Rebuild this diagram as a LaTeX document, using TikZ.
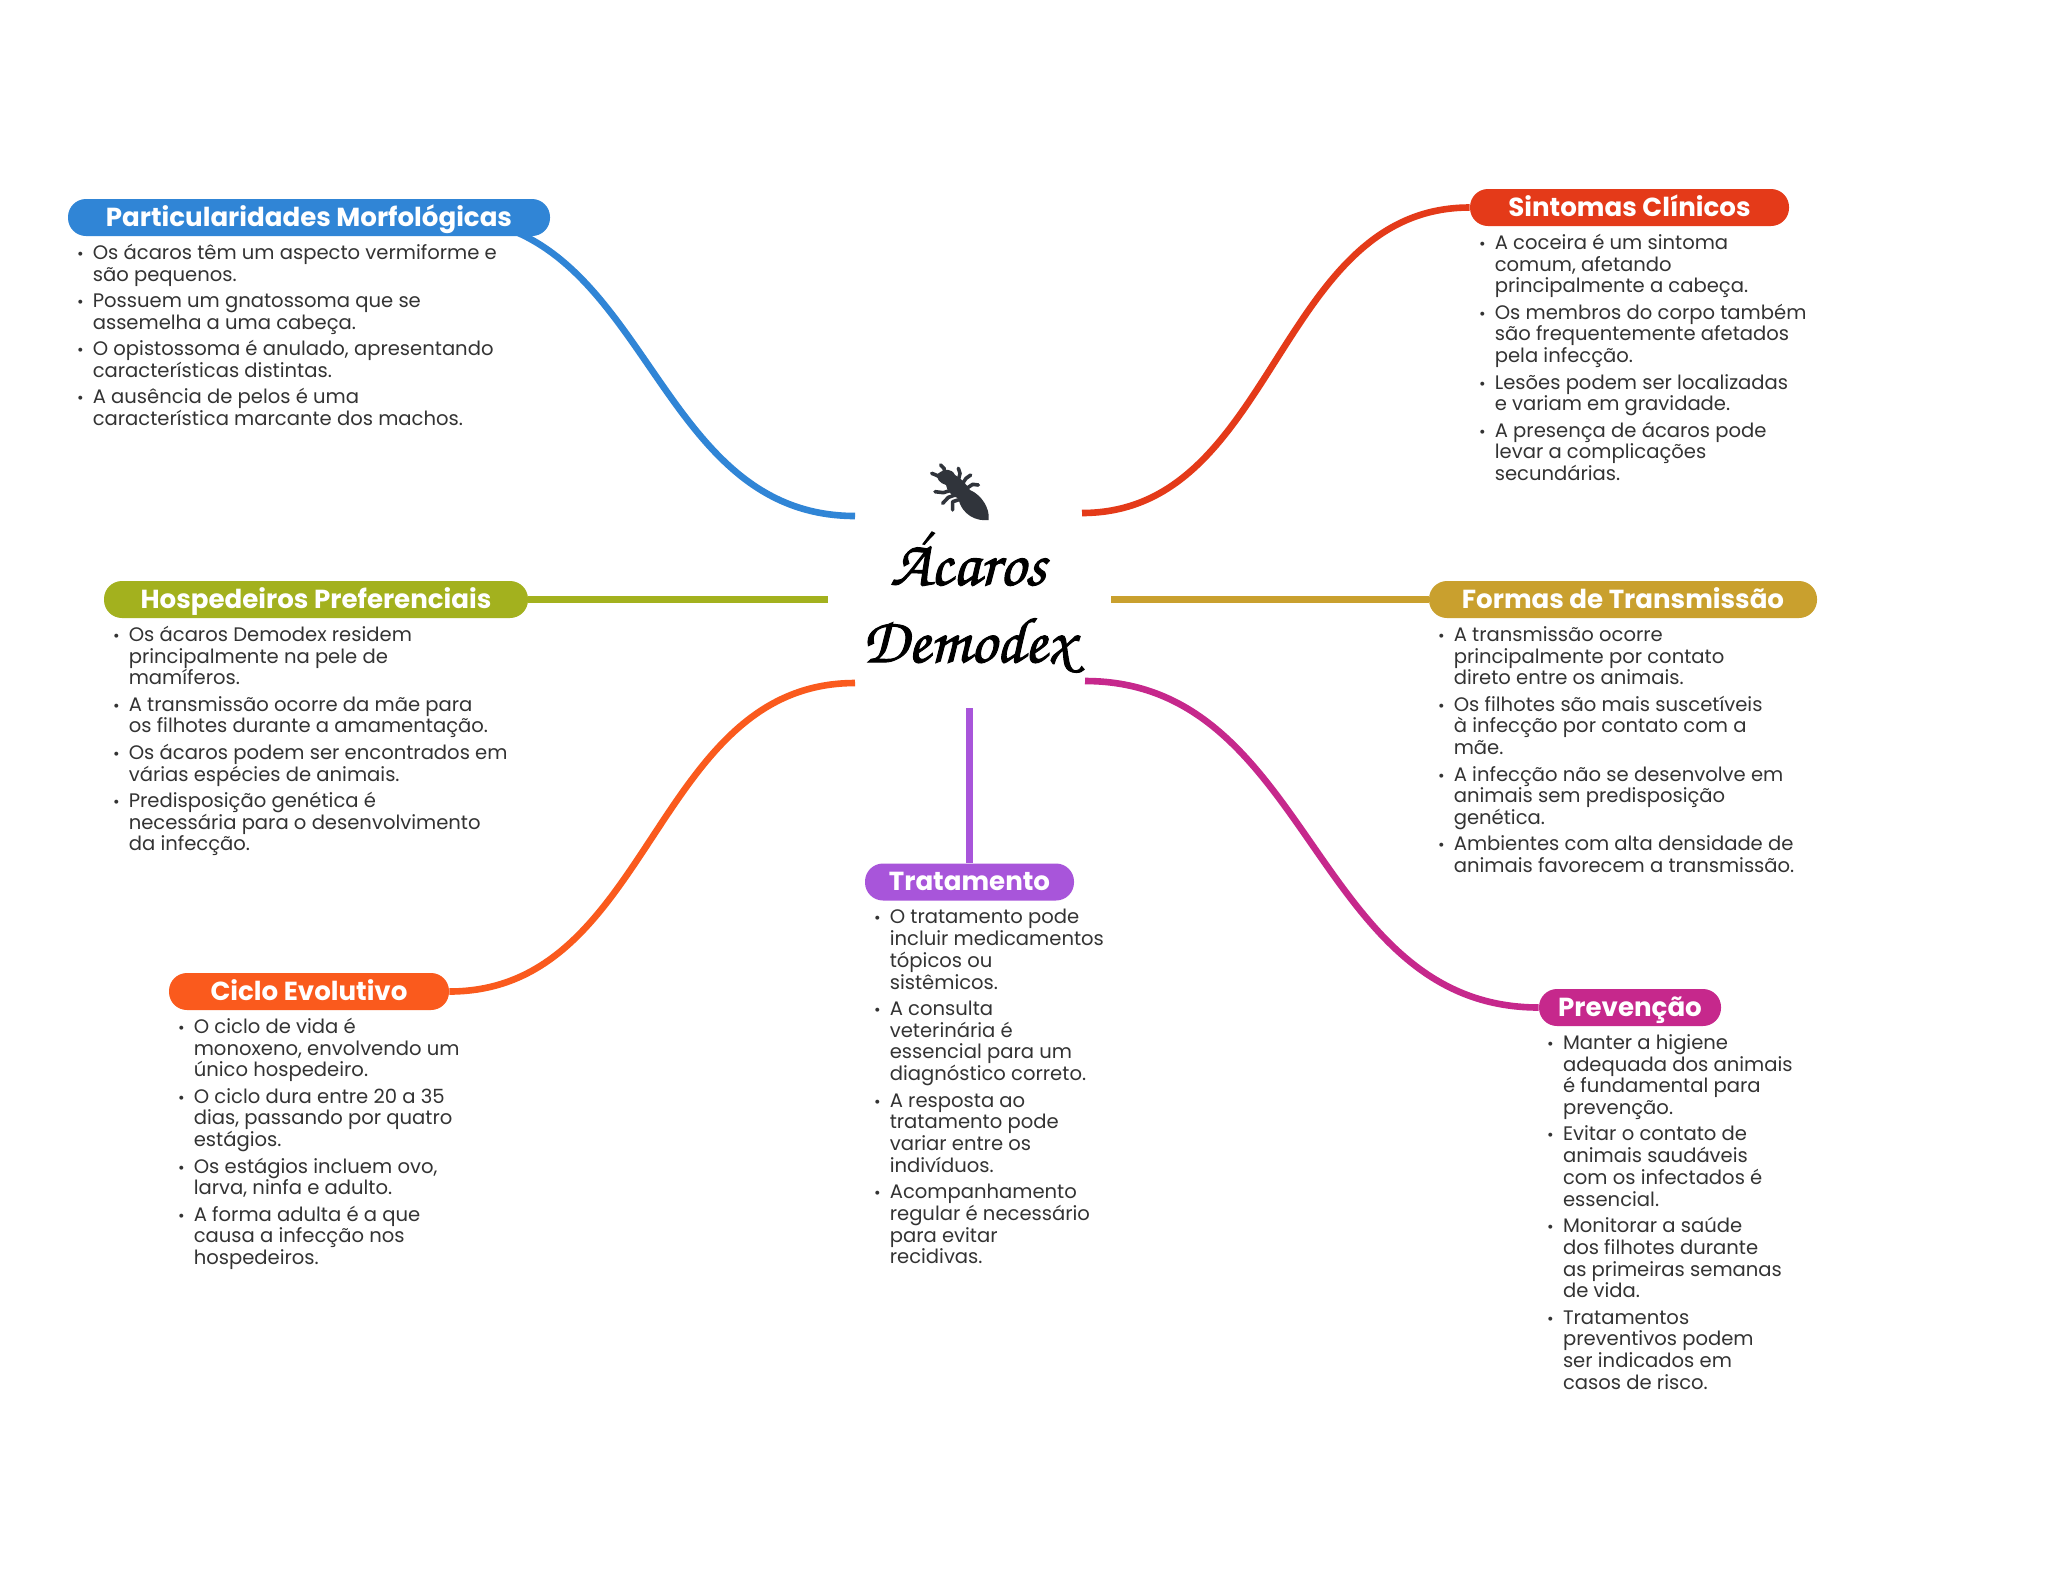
\documentclass[tikz,border=0pt]{standalone}
\usepackage{fontspec}
\setmainfont{Poppins}
\usetikzlibrary{calc,backgrounds}
\definecolor{cblue}{HTML}{3085D6}
\definecolor{cred}{HTML}{E43A19}
\definecolor{colive}{HTML}{A3B11E}
\definecolor{cgold}{HTML}{C9A02E}
\definecolor{corange}{HTML}{FA5A1D}
\definecolor{cpurple}{HTML}{A855DA}
\definecolor{cmag}{HTML}{C6288C}
\definecolor{ctext}{HTML}{333333}
\definecolor{cmite}{HTML}{30343B}
\newcommand{\itm}{\llap{{\fontsize{8pt}{8pt}\selectfont •}\hspace{4.6pt}}}
\newcommand{\first}{\rule{0pt}{8pt}\itm}
\newcommand{\nx}{\\[2.3pt]\itm}
\newcommand{\scurve}[3]{\draw[link,#1] let \p1=(#2),\p2=(#3) in (#2) .. controls ({0.5*(\x1+\x2)},\y1) and ({0.5*(\x1+\x2)},\y2) .. (#3);}
\tikzset{
  pill/.style={rounded corners=9pt,inner sep=0pt,text=white,text height=10pt,text depth=1.5pt,font=\fontsize{13.05pt}{14pt}\selectfont\bfseries},
  listbox/.style={anchor=north west,inner sep=0pt,align=left,text=ctext,font=\fontsize{9.79pt}{10.87pt}\selectfont},
  link/.style={line width=3.3pt},
  titlebox/.style={inner sep=0pt,align=center,text=black,font=\fontencoding{T1}\fontfamily{pzc}\fontseries{mb}\fontshape{it}\fontsize{32.4pt}{38.6pt}\selectfont}
}
\begin{document}
\begin{tikzpicture}[x=0.5pt,y=-0.5pt]
\useasboundingbox (0,0) rectangle (2048,1569);
% pills
\node[pill,fill=cblue,minimum width=241pt,minimum height=18.5pt] (p1) at (309,217.5) {Particularidades Morfológicas};
\node[pill,fill=cred,minimum width=159.5pt,minimum height=18.5pt] (p2) at (1629.5,207.5) {Sintomas Clínicos};
\node[pill,fill=colive,minimum width=212pt,minimum height=18.5pt] (p3) at (316,599.5) {Hospedeiros Preferenciais};
\node[pill,fill=cgold,minimum width=194pt,minimum height=18.5pt] (p4) at (1623,599.5) {Formas de Transmissão};
\node[pill,fill=corange,minimum width=140pt,minimum height=18.5pt] (p5) at (309,991.5) {Ciclo Evolutivo};
\node[pill,fill=cpurple,minimum width=104.5pt,minimum height=18.5pt] (p6) at (969.5,882) {Tratamento};
\node[pill,fill=cmag,minimum width=91pt,minimum height=18.5pt] (p7) at (1630,1007.5) {Prevenção};
% lists
\node[listbox] (l1) at ([shift={(12.4pt,-3.3pt)}]p1.south west) {\first Os ácaros têm um aspecto vermiforme e\\são pequenos.\nx Possuem um gnatossoma que se\\assemelha a uma cabeça.\nx O opistossoma é anulado, apresentando\\características distintas.\nx A ausência de pelos é uma\\característica marcante dos machos.};
\node[listbox] (l2) at ([shift={(12.4pt,-3.3pt)}]p2.south west) {\first A coceira é um sintoma\\comum, afetando\\principalmente a cabeça.\nx Os membros do corpo também\\são frequentemente afetados\\pela infecção.\nx Lesões podem ser localizadas\\e variam em gravidade.\nx A presença de ácaros pode\\levar a complicações\\secundárias.};
\node[listbox] (l3) at ([shift={(12.4pt,-3.3pt)}]p3.south west) {\first Os ácaros Demodex residem\\principalmente na pele de\\mamíferos.\nx A transmissão ocorre da mãe para\\os filhotes durante a amamentação.\nx Os ácaros podem ser encontrados em\\várias espécies de animais.\nx Predisposição genética é\\necessária para o desenvolvimento\\da infecção.};
\node[listbox] (l4) at ([shift={(12.4pt,-3.3pt)}]p4.south west) {\first A transmissão ocorre\\principalmente por contato\\direto entre os animais.\nx Os filhotes são mais suscetíveis\\à infecção por contato com a\\mãe.\nx A infecção não se desenvolve em\\animais sem predisposição\\genética.\nx Ambientes com alta densidade de\\animais favorecem a transmissão.};
\node[listbox] (l5) at ([shift={(12.4pt,-3.3pt)}]p5.south west) {\first O ciclo de vida é\\monoxeno, envolvendo um\\único hospedeiro.\nx O ciclo dura entre 20 a 35\\dias, passando por quatro\\estágios.\nx Os estágios incluem ovo,\\larva, ninfa e adulto.\nx A forma adulta é a que\\causa a infecção nos\\hospedeiros.};
\node[listbox] (l6) at ([shift={(12.4pt,-3.3pt)}]p6.south west) {\first O tratamento pode\\incluir medicamentos\\tópicos ou\\sistêmicos.\nx A consulta\\veterinária é\\essencial para um\\diagnóstico correto.\nx A resposta ao\\tratamento pode\\variar entre os\\indivíduos.\nx Acompanhamento\\regular é necessário\\para evitar\\recidivas.};
\node[listbox] (l7) at ([shift={(12pt,-3.3pt)}]p7.south west) {\first Manter a higiene\\adequada dos animais\\é fundamental para\\prevenção.\nx Evitar o contato de\\animais saudáveis\\com os infectados é\\essencial.\nx Monitorar a saúde\\dos filhotes durante\\as primeiras semanas\\de vida.\nx Tratamentos\\preventivos podem\\ser indicados em\\casos de risco.};
% centre
\node[titlebox] (c) at (968,603) {\special{pdf:code 2 Tr 0.5 w}\'Acaros\\\special{pdf:code 2 Tr 0.5 w}Demodex\special{pdf:code 0 Tr 0 w}};
\coordinate (e1) at (855,516);
\coordinate (s1) at (444,217.5);
\coordinate (e2) at (1082,513);
\coordinate (e3) at (828,599.5);
\coordinate (e4) at (1111,599.5);
\coordinate (e5) at (855,683);
\coordinate (e6) at (969.5,708);
\coordinate (e7) at (1085,681);
\begin{pgfonlayer}{background}
\fill[white] (0,0) rectangle (2048,1569);
\scurve{cblue}{s1}{e1}
\scurve{cred}{p2.west}{e2}
\draw[link,colive] (p3.east) -- (e3);
\draw[link,cgold] (p4.west) -- (e4);
\scurve{corange}{p5.east}{e5}
\draw[link,cpurple] (p6.north) -- (e6);
\scurve{cmag}{p7.west}{e7}
\end{pgfonlayer}
% mite
\begin{scope}[shift={(820,440)},x=0.16667pt,y=-0.16667pt]
\fill[cmite] (355,100) .. controls (375,85) and (395,85) .. (405,105) .. controls (425,115) and (440,135) .. (450,150)
 .. controls (485,165) and (510,205) .. (506,240) .. controls (470,245) and (425,225) .. (415,175)
 .. controls (395,170) and (380,150) .. (378,135) .. controls (360,130) and (345,115) .. (355,100) -- cycle;
\draw[cmite,line width=1.8pt,line cap=round,line join=round]
 (375,100) -- (372,85) -- (362,75)
 (358,110) -- (348,105) -- (335,100)
 (415,120) -- (420,100) -- (415,85)
 (428,130) -- (438,115) -- (452,105)
 (440,145) -- (458,133) -- (475,135)
 (395,150) -- (370,158) -- (345,155)
 (405,165) -- (385,172) -- (368,190)
 (420,178) -- (398,185) -- (398,210);
\end{scope}
\end{tikzpicture}
\end{document}
